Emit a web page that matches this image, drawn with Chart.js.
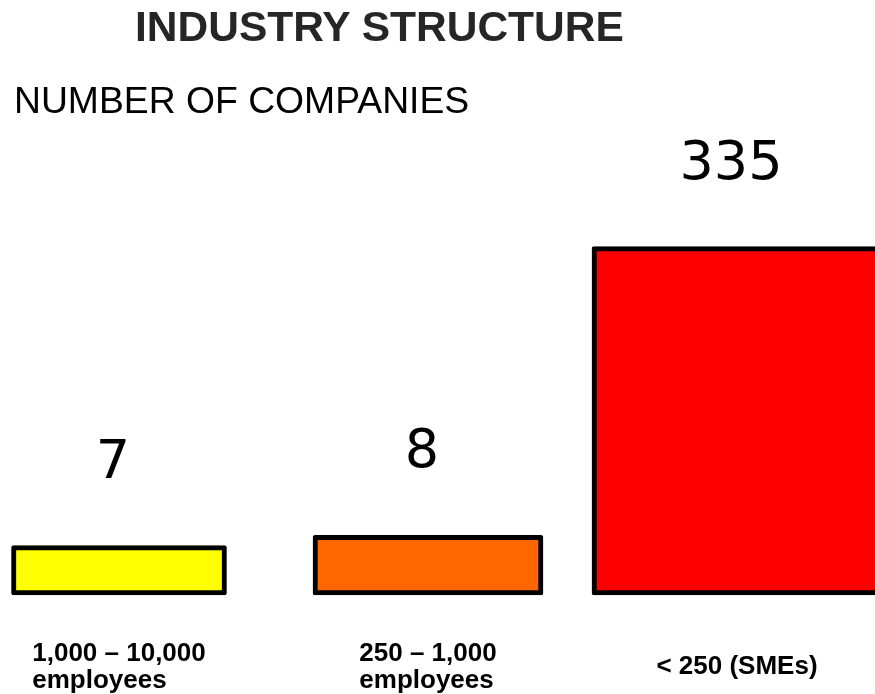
<!DOCTYPE html>
<html>
<head>
<meta charset="utf-8">
<title>Industry structure</title>
<script src="https://cdn.jsdelivr.net/npm/chart.js@4.4.1/dist/chart.umd.min.js"></script>
<style>
  body { margin: 0; background: #fff; }
  #wrap { position: relative; width: 875px; height: 694px; overflow: hidden; }
  #wrap canvas { position: absolute; left: 0; top: 0; }
  .heading { position: absolute; margin: 0; line-height: 1; white-space: nowrap; font-family: "Liberation Sans", Arial, sans-serif; }
  #title { left: 135px; top: 6px; font-size: 42.5px; font-weight: bold; color: #262626; }
  #subtitle { left: 14px; top: 82px; font-size: 37.3px; font-weight: normal; color: #000; }
</style>
</head>
<body>
<div id="wrap">
  <canvas id="chart" width="875" height="694"></canvas>
  <h1 class="heading" id="title">INDUSTRY STRUCTURE</h1>
  <h2 class="heading" id="subtitle">NUMBER OF COMPANIES</h2>
</div>
<script>
// company size classes (label lines) and number of companies in each
const categories = [["1,000 – 10,000", "employees"], ["250 – 1,000", "employees"], ["< 250 (SMEs)"]];
const companies = [7, 8, 335];

// styling
const barColors = ["#ffff00", "#ff6600", "#ff0000"];
const barWidths = [215, 230, 290];

// numbers above the bars
const valueLabels = {
  id: "valueLabels",
  afterDatasetsDraw(chart) {
    const ctx = chart.ctx;
    ctx.save();
    ctx.font = "54px 'DejaVu Sans'";
    ctx.fillStyle = "#000";
    ctx.textAlign = "center";
    ctx.textBaseline = "alphabetic";
    chart.data.datasets.forEach((ds, i) => {
      const bar = chart.getDatasetMeta(i).data[i];
      ctx.fillText(String(companies[i]), bar.x - 6, bar.y - 68);
    });
    ctx.restore();
  }
};

// category names under the bars: block centred on the bar, lines left aligned
const categoryLabels = {
  id: "categoryLabels",
  afterDraw(chart) {
    const ctx = chart.ctx;
    const lineHeight = 27;
    const mid = chart.chartArea.bottom + 79;
    ctx.save();
    ctx.font = "bold 26px 'Liberation Sans', Arial, sans-serif";
    ctx.fillStyle = "#000";
    ctx.textAlign = "left";
    ctx.textBaseline = "alphabetic";
    categories.forEach((lines, i) => {
      const x = chart.scales.x.getPixelForValue(i);
      const w = Math.max(...lines.map(l => ctx.measureText(l).width));
      lines.forEach((line, j) => {
        ctx.fillText(line, x - w / 2, mid + (j - (lines.length - 1) / 2) * lineHeight);
      });
    });
    ctx.restore();
  }
};

const datasets = companies.map((v, i) => ({
  label: categories[i].join(" "),
  data: companies.map((c, j) => (j === i ? c : null)),
  backgroundColor: barColors[i],
  borderColor: "#000",
  borderWidth: 5,
  borderSkipped: false,
  borderRadius: 2,
  barThickness: barWidths[i],
  clip: false
}));

new Chart(document.getElementById("chart"), {
  type: "bar",
  data: {
    labels: categories.map(c => c.join(" ")),
    datasets: datasets
  },
  options: {
    responsive: false,
    animation: false,
    devicePixelRatio: 1,
    layout: { padding: { top: 162, bottom: 99, left: 119, right: 138 } },
    datasets: { bar: { grouped: false } },
    scales: {
      x: { type: "category", display: false, offset: false },
      y: { type: "logarithmic", display: false, min: 3.7, max: 1000, bounds: "data" }
    },
    plugins: {
      legend: { display: false },
      tooltip: { enabled: false },
      title: { display: false }
    }
  },
  plugins: [valueLabels, categoryLabels]
});
</script>
</body>
</html>
